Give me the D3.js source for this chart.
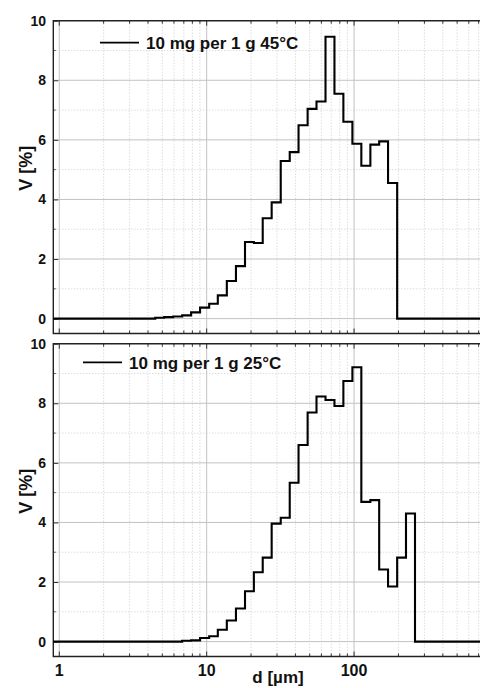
<!DOCTYPE html>
<html>
<head>
<meta charset="utf-8">
<script src="https://cdn.jsdelivr.net/npm/d3@7"></script>
<style>
  body { margin: 0; background: #fff; }
  text { font-family: "Liberation Sans", Arial, sans-serif; font-weight: bold; fill: #111; }
</style>
</head>
<body>
<div class="canva"></div>
<script>
// particle size bins (µm), edges of the laser diffraction classes
const binEdges = [3.90, 4.48, 5.15, 5.93, 6.82, 7.84, 9.02, 10.4, 11.9, 13.7,
                  15.8, 18.2, 20.9, 24.0, 27.6, 31.8, 36.6, 42.0, 48.4, 55.6,
                  64.0, 73.6, 84.6, 97.4, 112, 129, 148, 170, 196, 225, 259];

// volume fraction per bin, V [%]
const v45 = [0, 0.03, 0.05, 0.07, 0.11, 0.21, 0.37, 0.50, 0.78, 1.26,
             1.76, 2.57, 2.54, 3.37, 3.90, 5.29, 5.59, 6.49, 7.04, 7.29,
             9.46, 7.55, 6.61, 5.87, 5.13, 5.84, 5.95, 4.55, 0, 0];
const v25 = [0, 0, 0, 0, 0.03, 0.04, 0.12, 0.18, 0.40, 0.71,
             1.11, 1.69, 2.33, 2.82, 3.96, 4.16, 5.33, 6.60, 7.69, 8.23,
             8.11, 7.91, 8.75, 9.21, 4.69, 4.75, 2.42, 1.85, 2.82, 4.30];

const seriesNames = ['10 mg per 1 g 45°C', '10 mg per 1 g 25°C'];
const yTicks = [0, 2, 4, 6, 8, 10];
const yMinor = [1, 3, 5, 7, 9];
const xTicks = [1, 10, 100];
const xMinor = [2, 3, 4, 5, 6, 7, 8, 9, 20, 30, 40, 50, 60, 70, 80, 90, 200, 300, 400, 500, 600, 700];

const width = 480, height = 688;
const left = 53.3, right = 485;

const svg = d3.select('.canva').append('svg')
    .attr('width', width)
    .attr('height', height);

const x = d3.scaleLog()
    .domain([0.911, 773])
    .range([left, right]);

const panels = [
  { top: 20.7, bottom: 333.5, values: v45, name: seriesNames[0], legX: 100, legY: 42.7 },
  { top: 343.7, bottom: 656.5, values: v25, name: seriesNames[1], legX: 83, legY: 362.3 }
];

const line = d3.line()
    .x(d => x(d.x))
    .curve(d3.curveStepAfter);

panels.forEach((p, pi) => {
  const y = d3.scaleLinear().domain([-0.5, 10]).range([p.bottom, p.top]);
  const g = svg.append('g');

  // minor dotted grid
  g.selectAll('.hmin').data(yMinor).enter().append('line')
      .attr('x1', left).attr('x2', right)
      .attr('y1', d => y(d)).attr('y2', d => y(d))
      .attr('stroke', '#cdcdcd').attr('stroke-dasharray', '1 2');
  g.selectAll('.vmin').data(xMinor).enter().append('line')
      .attr('x1', d => x(d)).attr('x2', d => x(d))
      .attr('y1', p.top).attr('y2', p.bottom)
      .attr('stroke', '#cdcdcd').attr('stroke-dasharray', '1 2');

  // major grid
  g.selectAll('.hmaj').data(yTicks.filter(t => t < 10)).enter().append('line')
      .attr('x1', left).attr('x2', right)
      .attr('y1', d => y(d)).attr('y2', d => y(d))
      .attr('stroke', '#c2c2c2');
  g.selectAll('.vmaj').data(xTicks).enter().append('line')
      .attr('x1', d => x(d)).attr('x2', d => x(d))
      .attr('y1', p.top).attr('y2', p.bottom)
      .attr('stroke', '#c2c2c2');

  // y axis (ticks inward)
  const yAxis = d3.axisRight(y).tickValues(yTicks).tickSize(5).tickFormat('');
  g.append('g').attr('transform', `translate(${left},0)`).call(yAxis)
      .call(a => a.select('.domain').remove())
      .selectAll('line').attr('stroke', '#333');
  g.selectAll('.ymt').data(yMinor).enter().append('line')
      .attr('x1', left).attr('x2', left + 2.5)
      .attr('y1', d => y(d)).attr('y2', d => y(d))
      .attr('stroke', '#555');

  g.selectAll('.ylab').data(yTicks).enter().append('text')
      .attr('x', 46).attr('y', d => y(d)).attr('dy', '0.36em')
      .attr('text-anchor', 'end').attr('font-size', 14)
      .text(d => d);

  // top / bottom ticks pointing inward
  [p.top, p.bottom].forEach((yy, k) => {
    const dir = k === 0 ? 1 : -1;
    g.selectAll('.tmaj' + k).data(xTicks).enter().append('line')
        .attr('x1', d => x(d)).attr('x2', d => x(d))
        .attr('y1', yy).attr('y2', yy + dir * 5)
        .attr('stroke', '#333');
    g.selectAll('.tmin' + k).data(xMinor).enter().append('line')
        .attr('x1', d => x(d)).attr('x2', d => x(d))
        .attr('y1', yy).attr('y2', yy + dir * 3)
        .attr('stroke', '#333');
  });

  // frame
  g.append('path')
      .attr('d', `M${right},${p.top}H${left}V${p.bottom}H${right}`)
      .attr('fill', 'none').attr('stroke', '#222').attr('stroke-width', 1.4);

  // step distribution
  const pts = [{ x: x.domain()[0], v: 0 }]
      .concat(p.values.map((v, i) => ({ x: binEdges[i], v: v })))
      .concat([{ x: binEdges[binEdges.length - 1], v: 0 }, { x: x.domain()[1], v: 0 }]);
  g.append('path')
      .datum(pts)
      .attr('d', line.y(d => y(d.v)))
      .attr('fill', 'none')
      .attr('stroke', '#000')
      .attr('stroke-width', 2.1);

  // legend
  g.append('line')
      .attr('x1', p.legX).attr('x2', p.legX + 39)
      .attr('y1', p.legY).attr('y2', p.legY)
      .attr('stroke', '#000').attr('stroke-width', 1.8);
  g.append('text')
      .attr('x', p.legX + 46).attr('y', p.legY + 6.3)
      .attr('font-size', 17)
      .text(p.name);

  // y title
  g.append('text')
      .attr('transform', `translate(32.3,${p.top + 147.5}) rotate(-90)`)
      .attr('text-anchor', 'middle')
      .attr('font-size', 18)
      .text('V [%]');
});

// x tick labels under bottom panel
svg.selectAll('.xlab').data(xTicks).enter().append('text')
    .attr('x', d => x(d)).attr('y', 676)
    .attr('text-anchor', 'middle').attr('font-size', 16)
    .text(d => d);

svg.append('text')
    .attr('x', 278).attr('y', 683.4)
    .attr('text-anchor', 'middle').attr('font-size', 17)
    .text('d [µm]');
</script>
</body>
</html>
